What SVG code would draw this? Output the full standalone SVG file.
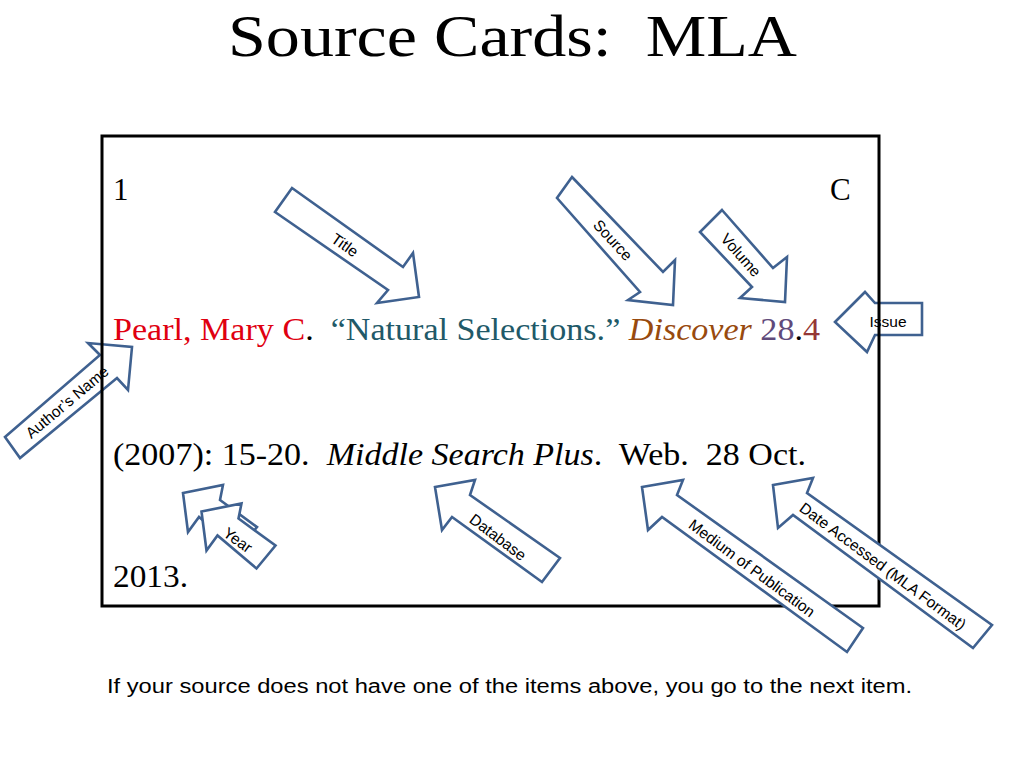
<svg xmlns="http://www.w3.org/2000/svg" width="1024" height="768" viewBox="0 0 1024 768">
<style>
.arrow{fill:#ffffff;stroke:#3F6190;stroke-width:2.6;stroke-linejoin:miter}
.lbl{font-family:"Liberation Sans",Arial,sans-serif;font-size:15.5px;fill:#000;text-anchor:middle;dominant-baseline:central}
.card{font-family:"Liberation Serif","DejaVu Serif",serif;font-size:31px;fill:#000}
</style>
<rect width="1024" height="768" fill="#ffffff"/>
<text x="228" y="56" font-family="'Liberation Serif','DejaVu Serif',serif" font-size="60" textLength="569" lengthAdjust="spacingAndGlyphs" xml:space="preserve">Source Cards:  MLA</text>

<g id="issue">
<polygon class="arrow" points="835,322 865,292 875,303 922,303 922,335 875,335 867,352"/>
<text class="lbl" x="888" y="321">Issue</text>
</g>
<g id="authors-name">
<polygon class="arrow" points="5,437 100,355 88,343 132,347 128,390 117,378 20,458"/>
<text class="lbl" transform="translate(67,402) rotate(-40)">Author’s Name</text>
</g>

<g id="card">
<rect x="102" y="136" width="777" height="470" fill="none" stroke="#000" stroke-width="3"/>
<text class="card" x="113" y="200">1</text>
<text class="card" x="830" y="200">C</text>
<text class="card" x="113" y="340" textLength="707" lengthAdjust="spacingAndGlyphs" xml:space="preserve"><tspan fill="#E00010">Pearl, Mary C</tspan>.  <tspan fill="#215968">“Natural Selections.”</tspan> <tspan fill="#984A0E" font-style="italic">Discover</tspan> <tspan fill="#604A7B">28</tspan>.<tspan fill="#953735">4</tspan></text>
<text class="card" x="113" y="465" textLength="693" lengthAdjust="spacingAndGlyphs" xml:space="preserve">(2007): 15-20.  <tspan font-style="italic">Middle Search Plus</tspan>.  Web.  28 Oct.</text>
<text class="card" x="113" y="587" textLength="75" lengthAdjust="spacingAndGlyphs">2013.</text>
</g>

<g id="title">
<polygon class="arrow" points="292,188 403,267 413,253 419,297 377,303 388,290 275,212"/>
<text class="lbl" transform="translate(345,245) rotate(35.4)">Title</text>
</g>
<g id="source">
<polygon class="arrow" points="572,177 663,272 675,260 673,305 628,300 640,292 557,198"/>
<text class="lbl" transform="translate(613,240) rotate(47)">Source</text>
</g>
<g id="volume">
<polygon class="arrow" points="722,210 773,268 787,257 785,302 740,298 752,287 700,232"/>
<text class="lbl" transform="translate(741,255) rotate(48.5)">Volume</text>
</g>
<g id="year">
<polygon class="arrow" points="183,493 223,485 220,500 257,527 238,550 199,517 188,532"/>
<polygon class="arrow" points="183,493 223,485 220,500 257,527 238,550 199,517 188,532" transform="translate(18.5,18.5)"/>
<text class="lbl" transform="translate(238,540) rotate(36)">Year</text>
</g>
<g id="database">
<polygon class="arrow" points="435,487 475,480 470,495 560,558 542,582 452,517 442,530"/>
<text class="lbl" transform="translate(498,537) rotate(37)">Database</text>
</g>
<g id="medium">
<polygon class="arrow" points="642,487 683,480 677,495 863,628 847,652 662,517 648,530"/>
<text class="lbl" transform="translate(752,568) rotate(36.5)">Medium of Publication</text>
</g>
<g id="date-accessed">
<polygon class="arrow" points="773,485 813,478 807,493 992,625 973,648 793,515 778,528"/>
<text class="lbl" transform="translate(883,566) rotate(36.5)">Date Accessed (MLA Format)</text>
</g>

<text x="107" y="693" font-family="'Liberation Sans',Arial,sans-serif" font-size="20" textLength="805" lengthAdjust="spacingAndGlyphs">If your source does not have one of the items above, you go to the next item.</text>
</svg>
